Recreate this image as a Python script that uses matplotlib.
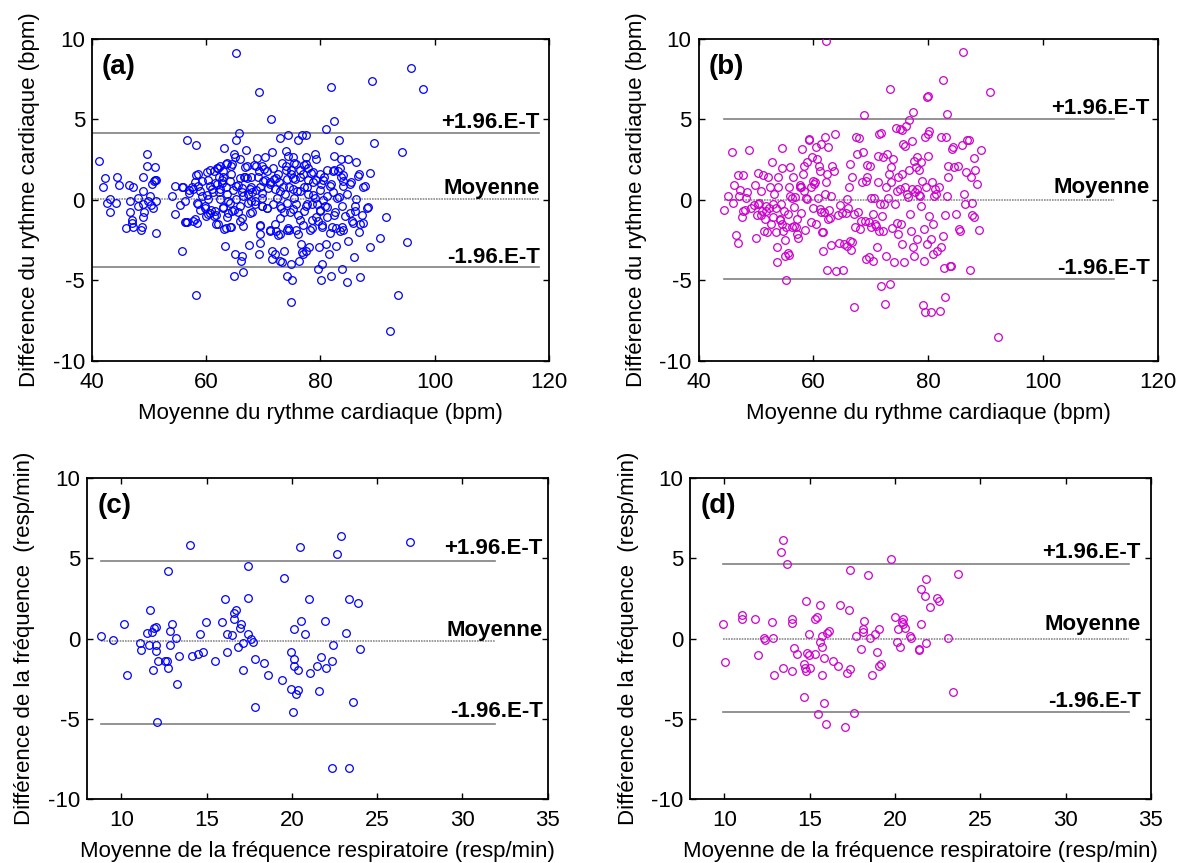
import numpy as np
import matplotlib
matplotlib.use("Agg")
import matplotlib.pyplot as plt

plt.rcParams['font.family'] = ['Liberation Sans', 'DejaVu Sans']
plt.rcParams['axes.unicode_minus'] = False

# ---- panel (a): heart rate, method 1 (mean, difference) ----
hr_a_points = [
    (41.3, 2.42), (41.9, 0.77), (42.3, 1.33), (42.6, -0.21), (43.2, 0.02), (43.2, -0.75),
    (44.2, -0.21), (44.4, 1.43), (44.7, 0.89), (45.9, -1.74), (46.5, 0.91), (46.6, -0.10),
    (46.6, -0.77), (47.1, -1.26), (47.1, -1.47), (47.2, -1.68), (47.2, 0.77), (48.0, -0.41),
    (48.1, 0.14), (48.6, -1.86), (48.7, -1.72), (48.9, 1.41), (49.0, 0.56), (49.0, -0.27),
    (49.0, -1.10), (49.2, -0.77), (49.6, 2.84), (49.6, 2.07), (49.9, -0.10), (50.2, 0.21),
    (50.3, -0.31), (50.5, 0.97), (50.7, -0.48), (50.9, 1.18), (51.1, 1.24), (51.1, 2.05),
    (51.2, -2.05), (51.2, 1.22), (51.3, -0.10),
    (54.0, 0.23), (54.6, 0.87), (54.6, -0.87), (55.5, -0.31), (55.7, -3.17), (55.7, 0.77),
    (56.3, -1.41), (56.4, -1.41), (56.7, 3.73), (57.0, 0.41), (57.5, 0.77), (57.7, -1.30),
    (58.2, 3.40), (58.2, 1.51), (58.4, -0.19), (58.4, -1.43), (58.6, 0.87), (58.2, -5.90),
    (59.0, -0.62), (59.2, 0.25), (59.8, -0.48), (59.9, -1.01), (60.1, 1.74), (60.3, 0.04),
    (60.4, -0.89), (60.6, 0.83), (61.1, 0.66), (61.3, 1.76), (61.4, -0.99), (61.6, -0.68),
    (61.7, -1.51), (61.9, 0.97), (62.1, 1.97), (62.2, 1.39), (62.3, 0.46), (62.5, 0.04),
    (62.7, 1.06), (62.9, -0.48), (63.0, 1.39), (63.1, -1.82), (63.2, 3.19), (63.3, -2.86),
    (63.4, 2.22), (63.5, 0.77), (63.6, -1.10), (63.8, -0.85), (63.9, -0.06), (64.2, -1.72),
    (64.4, 2.07), (64.4, 1.59), (64.6, -0.68), (64.8, 2.84), (64.8, -4.72), (65.0, -3.37),
    (65.1, 2.63), (65.2, 3.73), (65.3, 0.04), (65.6, 0.91), (65.6, -0.79), (65.8, 4.18),
    (65.9, 2.53), (66.0, -1.30), (66.1, -3.81), (66.2, 0.50), (66.3, -3.50), (66.4, -4.47),
    (66.5, 0.25), (66.7, 1.39), (66.8, 2.01), (66.9, 3.08), (67.1, 1.33), (67.3, 0.35),
    (67.5, -2.84), (67.7, -0.85), (67.8, -0.06), (67.9, 0.77), (68.1, 0.46), (68.5, -0.27),
    (68.7, 2.11), (68.9, 2.59), (69.1, 1.39), (69.2, 6.67), (69.3, -3.37), (69.4, -1.61),
    (69.4, -2.69), (69.4, -2.13), (69.5, 0.81), (69.7, 0.14), (69.8, -0.39), (69.9, 1.14),
    (70.2, 1.90), (70.3, 2.63), (70.7, -0.54), (71.1, -1.93), (71.2, 0.97), (71.4, 5.01),
    (71.5, -3.17), (71.6, 2.96), (71.6, -3.71), (71.9, 1.28), (72.0, -1.51), (72.1, -3.37),
    (72.3, -1.93), (72.4, 0.14), (72.5, -2.17), (72.7, 1.08), (72.9, -3.79), (73.0, 3.83),
    (73.1, -0.54), (73.2, -3.89), (73.5, 0.81), (73.6, -3.17), (73.7, -0.79), (73.9, 2.11),
    (74.0, 3.00), (74.1, -1.88), (74.1, -4.72), (74.3, 2.73), (74.4, 4.04), (74.5, 0.77),
    (74.5, -1.88), (74.7, -0.79), (74.8, 1.59), (74.9, -4.00), (75.0, -4.99), (75.2, 2.63),
    (75.3, 0.14), (75.4, 2.26), (75.5, 1.28), (75.7, -0.27), (75.9, 0.56), (76.0, 3.71),
    (76.1, -2.13), (76.2, -3.79), (76.4, 1.84), (76.4, -1.26), (76.6, -2.75), (76.7, 4.04),
    (76.8, -3.27), (76.9, 1.59), (77.0, -3.37), (77.1, -0.68), (77.2, 0.77), (77.4, -3.17),
    (77.4, 2.63), (77.5, 2.22), (77.5, 4.04), (77.7, -0.27), (77.8, 0.35), (78.0, -2.96),
    (78.1, -1.88), (78.3, 1.64), (78.5, -1.26), (78.7, 1.08), (79.0, 0.14), (79.1, 2.84),
    (79.3, 2.53), (79.4, -0.27), (79.5, -4.31), (79.6, -1.30), (79.8, -2.96), (79.9, -0.68),
    (80.1, -4.99), (80.1, 1.01), (80.2, -1.55), (80.3, -4.00), (80.4, -0.02), (80.6, 1.39),
    (80.8, -0.37), (81.0, -2.75), (81.0, 4.39), (81.2, -1.10), (81.5, -3.37), (81.6, 0.87),
    (81.8, 7.00), (81.9, -4.72), (82.0, -1.72), (82.2, 1.76), (82.3, 2.73), (82.4, 4.91),
    (82.6, -0.79), (82.8, -2.86), (82.9, 0.14), (83.1, 1.80), (83.3, 3.73), (83.4, -1.97),
    (83.6, 2.53), (83.6, 1.39), (83.7, -1.72), (83.8, -4.31), (83.9, 0.87), (84.3, -0.99),
    (84.6, -5.13), (84.8, -2.55), (84.9, 2.53), (85.1, 0.97), (85.6, -1.30), (85.8, -3.58),
    (86.1, -0.68), (86.3, 2.32), (86.6, 1.49), (86.8, -2.03), (86.9, -4.82), (87.0, -1.51),
    (87.4, 0.77), (88.1, -0.54), (88.6, -2.92), (88.7, 1.66), (89.0, 7.35), (89.3, 3.50),
    (90.5, -2.40), (91.5, -1.10), (93.6, -5.90), (92.2, -8.18), (94.2, 2.98), (95.1, -2.61),
    (95.8, 8.20), (97.9, 6.87), (65.3, 9.09), (74.8, -6.34),
    # dense core
    (58.6, 1.61), (60.7, 1.82), (61.9, 1.97), (62.5, 2.07), (63.0, 1.76), (63.6, 2.28),
    (64.6, 2.24), (67.1, 2.07), (67.8, 1.39), (68.4, 2.17), (69.3, 1.76), (69.8, 2.07),
    (70.7, 1.76), (71.7, 1.97), (72.6, 1.61), (73.2, 2.28), (74.0, 1.86), (74.8, 1.86),
    (75.8, 2.24), (77.1, 2.17), (77.9, 1.97), (78.7, 1.70), (79.9, 1.61), (81.1, 1.82),
    (82.4, 1.86), (83.4, 1.95), (83.9, 1.55), (85.3, 1.08), (86.8, 1.59), (87.8, 0.83),
    (58.1, 1.08), (59.2, 1.14), (60.4, 1.24), (61.5, 1.03), (62.8, 1.24), (64.2, 1.18),
    (65.2, 0.83), (65.9, 1.35), (66.8, 1.41), (70.3, 1.24), (71.2, 1.08), (72.3, 1.35),
    (74.1, 1.28), (75.2, 1.35), (76.4, 1.41), (77.9, 1.20), (79.3, 1.20), (80.5, 1.24),
    (81.8, 0.99), (84.0, 1.18),
    (56.0, 0.79), (57.0, 0.58), (57.7, 0.66), (58.9, 0.52), (60.1, 0.31), (61.2, 0.46),
    (62.4, 0.66), (63.6, 0.35), (64.7, 0.62), (66.2, 0.72), (67.7, 0.66), (68.7, 0.58),
    (69.7, 0.41), (70.9, 0.72), (72.0, 0.66), (72.9, 0.52), (73.8, 0.35), (75.2, 0.66),
    (76.4, 0.52), (77.6, 0.79), (78.7, 0.31), (79.9, 0.62), (81.1, 0.21), (82.2, 0.46),
    (83.3, 0.17), (84.6, 0.37), (86.3, 0.04),
    (56.3, -0.10), (58.6, -0.25), (59.8, -0.41), (60.9, -0.62), (61.8, -0.93), (63.0, -0.46),
    (64.2, -0.21), (64.9, -0.66), (65.9, -0.37), (67.4, -0.21), (68.5, -0.10), (69.7, -0.37),
    (70.6, -0.52), (71.7, -0.25), (72.9, -0.41), (74.1, -0.21), (75.2, -0.58), (76.1, -0.93),
    (77.5, -0.41), (78.6, -0.25), (79.9, -0.62), (81.1, -0.46), (82.4, -0.93), (83.7, -0.41),
    (85.2, -0.83), (86.0, -0.37), (87.2, -0.93), (88.4, -0.46), (60.7, -0.83), (66.2, -1.14),
    (68.0, -0.79), (72.9, -1.14), (79.3, -1.04),
    (56.6, -1.35), (58.1, -1.20), (62.1, -1.49), (63.4, -1.76), (64.3, -1.66), (66.5, -1.62),
    (69.5, -1.55), (71.2, -1.86), (72.9, -2.13), (74.4, -1.76), (75.8, -1.86), (77.0, -1.55),
    (78.5, -1.76), (80.2, -1.66), (81.7, -2.07), (82.8, -1.76), (84.0, -1.86), (85.7, -1.45),
    (87.4, -1.45),
]

# ---- panel (b): heart rate, method 2 ----
hr_b_points = [
    (44.4, -0.64), (45.1, 0.25), (45.9, 2.94), (46.0, -0.23), (46.1, 0.91), (46.5, -2.17),
    (46.9, -2.71), (46.9, 1.55), (47.1, 0.21), (47.2, 0.60), (47.5, -1.06), (47.7, -0.68),
    (47.8, 1.55), (48.1, -0.66), (48.2, 0.14), (48.4, 0.46), (48.7, 3.08), (49.2, -0.54),
    (49.7, -0.31), (49.9, 0.93), (50.0, -2.38), (50.1, -0.95), (50.3, 1.64), (50.3, -0.29),
    (50.5, -0.23), (50.8, -0.95), (50.9, 0.56), (51.0, -0.68), (51.3, 1.55), (51.4, -1.93),
    (51.6, -1.22), (51.7, -0.37), (51.8, -0.68), (52.0, -2.03), (52.1, 1.39), (52.2, -0.52),
    (52.4, 0.77), (52.6, -1.51), (52.8, 2.32), (52.9, -1.10), (53.0, -0.27), (53.2, 0.35),
    (53.4, -2.03), (53.5, -0.48), (53.6, -2.92), (53.7, -3.89), (53.8, 0.77), (53.9, 1.39),
    (54.1, -1.26), (54.2, -1.20), (54.3, -0.27), (54.5, 3.19), (54.5, 1.97), (54.6, -1.51),
    (54.7, -1.93), (54.9, -0.68), (55.1, -3.48), (55.1, -2.50), (55.2, -4.99), (55.3, -1.72),
    (55.5, -0.89), (55.6, -3.33), (55.7, -3.42), (55.8, 0.77), (55.9, 0.25), (56.0, 2.01),
    (56.2, -1.72), (56.3, 0.14), (56.4, 1.39), (56.6, -1.61), (56.7, -0.43), (56.8, 0.19),
    (57.0, -1.72), (57.1, -2.13), (57.2, -1.20), (57.4, -2.38), (57.6, 0.77), (57.7, 0.93),
    (57.8, -0.85), (57.9, 0.81), (58.0, 3.15), (58.2, 1.59), (58.3, 0.56), (58.4, 2.11),
    (58.5, -1.88), (58.7, 0.14), (58.9, 2.32), (58.9, 0.04), (59.2, 3.77), (59.3, 3.71),
    (59.5, -1.41), (59.6, 0.77), (59.7, 2.63), (59.9, -0.48), (60.0, 1.18), (60.1, 0.97),
    (60.3, 1.08), (60.4, 3.25), (60.5, -1.51), (60.6, 2.53), (60.8, 0.14), (61.0, 2.11),
    (61.1, 1.80), (61.2, -0.58), (61.3, 3.46), (61.4, -0.79), (61.5, -2.03), (61.6, -2.03),
    (61.7, -3.17), (61.8, -0.79), (62.0, 0.35), (62.1, 3.91), (62.2, 1.08), (62.4, 1.59),
    (62.4, -4.37), (62.5, 3.25), (62.6, -1.20), (62.7, -0.64), (62.9, -1.16), (63.0, -2.82),
    (63.1, 0.25), (63.2, 2.11), (63.5, 1.80), (63.8, 4.08), (63.9, -4.41), (64.3, -0.95),
    (64.5, -2.71), (64.7, -0.33), (65.0, -0.85), (65.2, -4.37), (65.4, -2.75), (65.6, -0.85),
    (65.8, -2.86), (65.9, 0.04), (66.0, -0.48), (66.2, 0.81), (66.3, -2.55), (66.4, 2.21),
    (66.6, -3.13), (66.7, 1.39), (66.8, -2.65), (67.0, -0.89), (67.1, -6.69), (67.3, -1.72),
    (67.4, 3.91), (67.6, 2.84), (67.7, -0.79), (67.9, 3.83), (68.1, -1.82), (68.3, -1.30),
    (68.5, 1.08), (68.7, 2.94), (68.8, 5.26), (68.9, -1.30), (69.1, -3.68), (69.2, 1.18),
    (69.3, 2.17), (69.4, 1.39), (69.6, -1.41), (69.7, -3.58), (69.9, 2.11), (70.0, 0.14),
    (70.1, -1.72), (70.3, -0.89), (70.4, -3.79), (70.5, 0.14), (70.7, -1.51), (70.9, -1.61),
    (71.0, -2.92), (71.2, 2.73), (71.3, 1.08), (71.4, 4.08), (71.4, -1.93), (71.6, -0.27),
    (71.7, 4.18), (71.8, -5.34), (72.0, -0.99), (72.1, 2.63), (72.2, -1.93), (72.3, -0.27),
    (72.5, -6.48), (72.6, 0.77), (72.7, -3.48), (72.9, 2.84), (73.0, 0.14), (73.1, 1.59),
    (73.3, -5.24), (73.4, 6.87), (73.5, 1.08), (73.5, 2.01), (73.7, -1.78), (73.8, 2.53),
    (74.0, -3.89), (74.2, -0.27), (74.3, 4.49), (74.5, 0.56), (74.6, -1.47), (74.7, 1.39),
    (74.8, -2.13), (75.0, 4.39), (75.1, 0.66), (75.2, -1.51), (75.4, 1.59), (75.4, 4.33),
    (75.5, -2.75), (75.6, 3.46), (75.8, -3.89), (75.9, 0.77), (76.0, 3.35), (76.2, 4.60),
    (76.3, 0.35), (76.4, 0.19), (76.6, 1.84), (76.7, 4.95), (76.8, -0.89), (77.0, -1.93),
    (77.1, 3.66), (77.1, 0.70), (77.3, -2.96), (77.3, 5.46), (77.5, -3.48), (77.6, 2.42),
    (77.7, 0.46), (77.9, 2.01), (78.0, 2.67), (78.1, -2.44), (78.1, 0.70), (78.3, 0.29),
    (78.4, 1.84), (78.5, 0.21), (78.7, 2.32), (78.8, -0.37), (78.9, 1.18), (79.1, -6.54),
    (79.2, -3.79), (79.3, -1.82), (79.5, 3.87), (79.5, -7.00), (79.6, 0.81), (79.7, -2.75),
    (79.8, 6.36), (79.9, 4.08), (80.0, 6.46), (80.0, 2.73), (80.1, 4.28), (80.2, -0.99),
    (80.4, -7.00), (80.5, -2.44), (80.6, 1.08), (80.8, -3.37), (80.9, -1.51), (81.0, 0.25),
    (81.2, 0.66), (81.4, 0.35), (81.6, -3.17), (81.8, 0.77), (82.1, -6.89), (82.2, -2.92),
    (82.3, 3.87), (82.5, -2.24), (82.6, 7.43), (82.7, -4.24), (82.9, -6.07), (83.0, -0.95),
    (83.1, 3.91), (83.2, 5.36), (83.3, 0.25), (83.4, 2.07), (83.5, 1.39), (83.7, -4.14),
    (83.9, -4.10), (84.1, 3.15), (84.3, 3.25), (84.5, 2.01), (84.8, -0.89), (85.2, 2.11),
    (85.4, -1.84), (85.5, -1.93), (85.8, 3.42), (86.0, 9.19), (86.2, 0.39), (86.4, -0.27),
    (86.6, 1.70), (86.8, 3.73), (87.1, 3.73), (87.3, -4.35), (87.5, 1.39), (87.6, -0.19),
    (87.7, -0.93), (87.9, -1.10), (88.0, 2.59), (88.1, 1.84), (88.5, 0.97), (88.8, -1.88),
    (89.1, 3.08), (90.7, 6.67), (92.2, -8.51), (62.2, 9.87),
]

# ---- panel (c): respiratory rate, method 1 ----
rr_c_points = [
    (8.82, 0.17), (9.53, -0.08), (10.16, 0.93), (10.36, -2.26), (11.07, -0.29), (11.18, -0.73),
    (11.49, 0.35), (11.63, -0.39), (11.71, 1.78), (11.80, 0.39), (11.83, -1.93), (11.89, 0.64),
    (12.03, 0.75), (12.03, -0.39), (12.05, -0.75), (12.12, -5.21), (12.16, -1.39), (12.56, -1.39),
    (12.67, -1.37), (12.76, 4.19), (12.76, -1.83), (12.85, 0.46), (12.87, -0.41), (12.98, 0.91),
    (13.18, 0.04), (13.27, -2.82), (13.39, -1.06), (14.01, 5.83), (14.12, -1.06), (14.50, -0.95),
    (14.63, 0.27), (14.77, -0.83), (14.94, 1.02), (15.48, -1.37), (15.88, 1.02), (16.08, 2.45),
    (16.17, 0.27), (16.19, -0.83), (16.50, 0.25), (16.59, 1.62), (16.59, 1.24), (16.73, 1.78),
    (16.84, -0.52), (16.93, 0.68), (17.04, 0.93), (17.13, -1.93), (17.15, -0.29), (17.44, 2.55),
    (17.44, 4.52), (17.44, 0.27), (17.62, -0.04), (17.75, -0.21), (17.86, -1.29), (17.86, -4.23),
    (18.37, -1.49), (18.60, -2.26), (19.42, -2.59), (19.51, 3.76), (19.96, -3.15), (19.96, -0.85),
    (20.04, -4.56), (20.13, 0.58), (20.13, -1.29), (20.13, -1.70), (20.24, -3.46), (20.36, -1.93),
    (20.38, -3.22), (20.47, 5.71), (20.56, 1.12), (20.78, 0.27), (21.00, 2.45), (21.09, -2.16),
    (21.49, -1.70), (21.60, -3.24), (21.69, -1.16), (21.92, 1.12), (22.00, -1.83), (22.34, -8.07),
    (22.34, -1.39), (22.43, -0.39), (22.65, 5.27), (22.87, 6.37), (23.16, 0.35), (23.36, 2.45),
    (23.36, -8.07), (23.59, -3.92), (23.90, 2.22), (24.01, -0.62), (26.90, 6.04),
]

# ---- panel (d): respiratory rate, method 2 ----
rr_d_points = [
    (9.89, 0.91), (10.02, -1.47), (11.04, 1.47), (11.04, 1.20), (11.77, 1.24), (11.99, -1.05),
    (12.30, 0.06), (12.39, -0.10), (12.81, 1.01), (12.83, 0.04), (12.92, -2.25), (13.34, 5.37),
    (13.43, 6.14), (13.43, -1.82), (13.65, 4.63), (13.94, 1.24), (13.94, 0.99), (13.94, -2.02),
    (14.05, -0.60), (14.27, -0.95), (14.69, -1.57), (14.69, -3.66), (14.71, -1.82), (14.78, -2.02),
    (14.80, 2.33), (14.85, -0.91), (14.98, 0.27), (14.98, -1.03), (15.02, -1.82), (15.29, -0.95),
    (15.33, 1.24), (15.42, 1.36), (15.51, -4.67), (15.60, 2.11), (15.60, -0.19), (15.71, 0.17),
    (15.71, -0.52), (15.71, -2.25), (15.82, -3.99), (15.84, -1.18), (15.95, -5.31), (16.02, 0.37),
    (16.15, 0.48), (16.35, -1.38), (16.66, -1.71), (16.75, 2.11), (17.08, -5.52), (17.17, -2.15),
    (17.28, 1.78), (17.39, 4.28), (17.39, -1.92), (17.59, -4.65), (17.70, 0.17), (18.01, -0.62),
    (18.10, 0.58), (18.10, 0.41), (18.21, 1.12), (18.43, 3.95), (18.52, 0.02), (18.63, -2.25),
    (18.83, 0.27), (18.94, -0.83), (19.05, 0.58), (19.05, -1.71), (19.16, -1.59), (19.78, 4.94),
    (19.98, 1.34), (20.09, -0.19), (20.18, 0.58), (20.29, -0.52), (20.38, 1.01), (20.49, 1.24),
    (20.49, 0.91), (20.60, 0.68), (20.88, 0.17), (20.91, 0.02), (21.42, -0.62), (21.42, -0.72),
    (21.53, 3.10), (21.53, 0.91), (21.73, 2.64), (21.84, 3.74), (21.84, -0.27), (22.06, 1.98),
    (22.46, 2.54), (22.57, 2.33), (23.08, 0.04), (23.41, -3.35), (23.72, 4.05),
]

# agreement limits: (+1.96 SD, mean, -1.96 SD)
limits_a = (4.18, 0.03, -4.20)
limits_b = (5.03, 0.0, -4.90)
limits_c = (4.85, -0.17, -5.33)
limits_d = (4.63, 0.0, -4.56)

limit_labels = ["+1.96.E-T", "Moyenne", "-1.96.E-T"]
hr_xticks = [40, 60, 80, 100, 120]
rr_xticks = [10, 15, 20, 25, 30, 35]
yticks = [-10, -5, 0, 5, 10]

BLUE = "#0000FF"
MAGENTA = "#CC00CC"
FS = 16


def draw_panel(ax, pts, color, xlim, xticks, limits, span, text_x, text_dy,
               tag, xlabel, ylabel):
    pts = np.array(pts)
    ax.plot(pts[:, 0], pts[:, 1], 'o', mfc='none', mec=color, ms=5.5, mew=0.9,
            zorder=3)
    up, mid, lo = limits
    ax.plot(span, [up, up], color='#808080', lw=1.2, zorder=2)
    ax.plot(span, [lo, lo], color='#808080', lw=1.2, zorder=2)
    ax.plot(span, [mid, mid], color='#8c8c8c', lw=1.2, ls=(0, (1, 0.6)), zorder=2)
    for val, lab, dy in zip(limits, limit_labels, text_dy):
        ax.text(text_x, val + dy, lab, ha='right', va='center', fontsize=16,
                fontweight='bold')
    ax.text(0.022, 0.913, tag, transform=ax.transAxes, ha='left', va='center',
            fontsize=20, fontweight='bold')
    ax.set_xlim(*xlim)
    ax.set_ylim(-10, 10)
    ax.set_xticks(xticks)
    ax.set_yticks(yticks)
    ax.tick_params(direction='in', length=4, width=1, top=True, right=True,
                   labelsize=FS, pad=8)
    ax.tick_params(axis='y', pad=5)
    for s in ax.spines.values():
        s.set_linewidth(1.3)
    ax.set_xlabel(xlabel, fontsize=FS, labelpad=7)
    ax.set_ylabel(ylabel, fontsize=FS, labelpad=9)


fig = plt.figure(figsize=(11.78, 8.63), dpi=100)

ax_a = fig.add_axes([0.078, 0.582, 0.388, 0.373])
ax_b = fig.add_axes([0.593, 0.582, 0.390, 0.373])
ax_c = fig.add_axes([0.074, 0.074, 0.391, 0.372])
ax_d = fig.add_axes([0.586, 0.074, 0.391, 0.372])

hr_ylabel = "Différence du rythme cardiaque (bpm)"
hr_xlabel = "Moyenne du rythme cardiaque (bpm)"
rr_ylabel = "Différence de la fréquence  (resp/min)"
rr_xlabel = "Moyenne de la fréquence respiratoire (resp/min)"

draw_panel(ax_a, hr_a_points, BLUE, (40, 120), hr_xticks, limits_a, [40, 118.2],
           118.4, (0.62, 0.68, 0.62), "(a)", hr_xlabel, hr_ylabel)
draw_panel(ax_b, hr_b_points, MAGENTA, (40, 120), hr_xticks, limits_b, [44.4, 112.4],
           118.6, (0.62, 0.77, 0.62), "(b)", hr_xlabel, hr_ylabel)
draw_panel(ax_c, rr_c_points, BLUE, (8, 35), rr_xticks, limits_c, [8.8, 31.9],
           34.7, (0.75, 0.7, 0.8), "(c)", rr_xlabel, rr_ylabel)
draw_panel(ax_d, rr_d_points, MAGENTA, (8, 35), rr_xticks, limits_d, [9.9, 33.7],
           34.4, (0.75, 0.85, 0.65), "(d)", rr_xlabel, rr_ylabel)

fig.savefig("out.png", dpi=100)
